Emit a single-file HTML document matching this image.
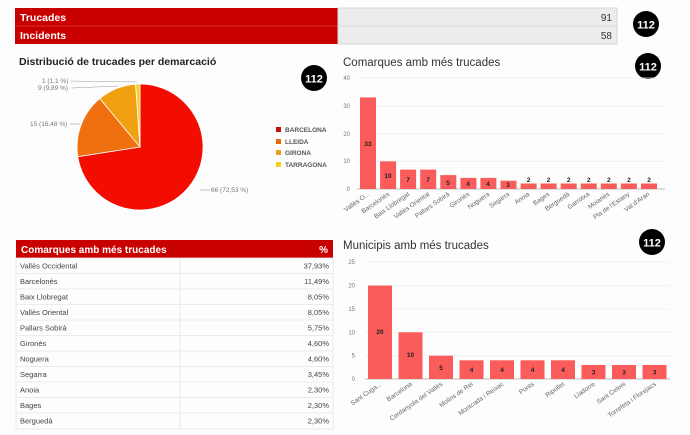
<!DOCTYPE html>
<html><head><meta charset="utf-8"><style>
html,body{margin:0;padding:0;background:#fff;}
svg{display:block;font-family:"Liberation Sans",Arial,sans-serif;}
</style></head><body>
<svg width="690" height="435" viewBox="0 0 690 435" xmlns="http://www.w3.org/2000/svg">
<rect width="690" height="435" fill="#fdfdfd"/>
<rect x="15" y="8" width="323" height="36" fill="#c80000"/>
<line x1="15" y1="26" x2="338" y2="26" stroke="#e03030"/>
<text x="20" y="21" font-size="10.5" font-weight="bold" fill="#fff">Trucades</text>
<text x="20" y="39" font-size="10.5" font-weight="bold" fill="#fff">Incidents</text>
<rect x="338" y="8" width="279" height="36" fill="#ececec" stroke="#d8d8d8"/>
<line x1="338" y1="26" x2="617" y2="26" stroke="#d8d8d8"/>
<text x="612" y="21" font-size="10" fill="#333" text-anchor="end">91</text>
<text x="612" y="39" font-size="10" fill="#333" text-anchor="end">58</text>
<g font-weight="bold" text-anchor="middle">
<circle cx="646" cy="24" r="13" fill="#000"/><text x="646" y="28.5" font-size="11" fill="#fff">112</text>
<circle cx="314" cy="78" r="13" fill="#000"/><text x="314" y="82.5" font-size="11" fill="#fff">112</text>
<circle cx="648" cy="66" r="13" fill="#000"/><text x="648" y="70.5" font-size="11" fill="#fff">112</text>
<circle cx="652" cy="242" r="13" fill="#000"/><text x="652" y="246.5" font-size="11" fill="#fff">112</text>
</g>
<text x="19" y="65" font-size="10.5" font-weight="bold" fill="#222">Distribució de trucades per demarcació</text>
<path d="M140,147 L140,84 A63,63 0 1 1 77.8,156.7 Z" fill="#f20d00" stroke="#fff" stroke-width="0.8"/>
<path d="M140,147 L77.8,156.7 A63,63 0 0 1 99.9,98.5 Z" fill="#f07010" stroke="#fff" stroke-width="0.8"/>
<path d="M140,147 L99.9,98.5 A63,63 0 0 1 135.6,84.2 Z" fill="#f0a010" stroke="#fff" stroke-width="0.8"/>
<path d="M140,147 L135.6,84.2 A63,63 0 0 1 140,84 Z" fill="#f5d020" stroke="#fff" stroke-width="0.8"/>
<g stroke="#999" stroke-width="0.6">
<line x1="70" y1="81" x2="137" y2="82"/><line x1="72" y1="88" x2="118" y2="86"/>
<line x1="70" y1="124" x2="80" y2="124"/><line x1="200" y1="190" x2="210" y2="190"/>
</g>
<g font-size="6.5" fill="#777">
<text x="42" y="83">1 (1,1 %)</text><text x="38" y="90">9 (9,89 %)</text>
<text x="30" y="126">15 (16,48 %)</text><text x="211" y="192">66 (72,53 %)</text>
</g>
<g font-size="6.5" fill="#555" font-weight="bold">
<rect x="276" y="127" width="5" height="5" fill="#c81010"/><text x="285" y="132">BARCELONA</text>
<rect x="276" y="139" width="5" height="5" fill="#e06a10"/><text x="285" y="144">LLEIDA</text>
<rect x="276" y="150" width="5" height="5" fill="#e8a020"/><text x="285" y="155">GIRONA</text>
<rect x="276" y="162" width="5" height="5" fill="#f5d020"/><text x="285" y="167">TARRAGONA</text>
</g>
<text x="343" y="66" font-size="11.5" fill="#333">Comarques amb més trucades</text>
<g stroke="#eee" stroke-width="0.8">
<line x1="357" y1="78" x2="665" y2="78"/><line x1="357" y1="106" x2="665" y2="106"/>
<line x1="357" y1="133.5" x2="665" y2="133.5"/><line x1="357" y1="161.3" x2="665" y2="161.3"/>
</g>
<line x1="357" y1="189" x2="665" y2="189" stroke="#aaa" stroke-width="0.8"/>
<g font-size="6" fill="#777" text-anchor="end">
<text x="350" y="80">40</text><text x="350" y="108">30</text><text x="350" y="136">20</text><text x="350" y="163">10</text><text x="350" y="191">0</text>
</g>
<g fill="#fa5c5c">
<rect x="360" y="97.4" width="16" height="91.6"/><rect x="380.1" y="161.3" width="16" height="27.7"/>
<rect x="400.1" y="169.6" width="16" height="19.4"/><rect x="420.2" y="169.6" width="16" height="19.4"/>
<rect x="440.3" y="175.1" width="16" height="13.9"/><rect x="460.4" y="177.9" width="16" height="11.1"/>
<rect x="480.4" y="177.9" width="16" height="11.1"/><rect x="500.5" y="180.7" width="16" height="8.3"/>
<rect x="520.6" y="183.5" width="16" height="5.5"/><rect x="540.6" y="183.5" width="16" height="5.5"/>
<rect x="560.7" y="183.5" width="16" height="5.5"/><rect x="580.8" y="183.5" width="16" height="5.5"/>
<rect x="600.8" y="183.5" width="16" height="5.5"/><rect x="620.9" y="183.5" width="16" height="5.5"/>
<rect x="641" y="183.5" width="16" height="5.5"/>
</g>
<g font-size="6.5" font-weight="bold" fill="#222" text-anchor="middle">
<text x="368" y="146">33</text><text x="388" y="178">10</text><text x="408" y="182">7</text><text x="428" y="182">7</text>
<text x="448" y="185">5</text><text x="468" y="186">4</text><text x="488" y="186">4</text><text x="508" y="187">3</text>
<text x="528.6" y="182">2</text><text x="548.6" y="182">2</text><text x="568.7" y="182">2</text><text x="588.8" y="182">2</text>
<text x="608.8" y="182">2</text><text x="628.9" y="182">2</text><text x="649" y="182">2</text>
</g>
<g font-size="6.5" fill="#666" text-anchor="end">
<text transform="translate(370,195) rotate(-35)">Vallès O...</text>
<text transform="translate(390,195) rotate(-35)">Barcelonès</text>
<text transform="translate(410,195) rotate(-35)">Baix Llobregat</text>
<text transform="translate(430,195) rotate(-35)">Vallès Oriental</text>
<text transform="translate(450,195) rotate(-35)">Pallars Sobirà</text>
<text transform="translate(470,195) rotate(-35)">Gironès</text>
<text transform="translate(490,195) rotate(-35)">Noguera</text>
<text transform="translate(510,195) rotate(-35)">Segarra</text>
<text transform="translate(530,195) rotate(-35)">Anoia</text>
<text transform="translate(550,195) rotate(-35)">Bages</text>
<text transform="translate(570,195) rotate(-35)">Berguedà</text>
<text transform="translate(590,195) rotate(-35)">Garrotxa</text>
<text transform="translate(610,195) rotate(-35)">Moianès</text>
<text transform="translate(630,195) rotate(-35)">Pla de l'Estany</text>
<text transform="translate(650,195) rotate(-35)">Val d'Aran</text>
</g>
<rect x="16" y="240" width="317" height="18" fill="#c80000"/>
<text x="21" y="253" font-size="10" font-weight="bold" fill="#fff">Comarques amb més trucades</text>
<text x="328" y="253" font-size="10" font-weight="bold" fill="#fff" text-anchor="end">%</text>
<g stroke="#e4e4e4" stroke-width="0.8" fill="none">
<rect x="16" y="258" width="317" height="171"/>
<line x1="180" y1="258" x2="180" y2="429"/>
<line x1="16" y1="273.5" x2="333" y2="273.5"/><line x1="16" y1="289" x2="333" y2="289"/>
<line x1="16" y1="304.5" x2="333" y2="304.5"/><line x1="16" y1="320" x2="333" y2="320"/>
<line x1="16" y1="335.5" x2="333" y2="335.5"/><line x1="16" y1="351" x2="333" y2="351"/>
<line x1="16" y1="366.5" x2="333" y2="366.5"/><line x1="16" y1="382" x2="333" y2="382"/>
<line x1="16" y1="397.5" x2="333" y2="397.5"/><line x1="16" y1="413" x2="333" y2="413"/>
</g>
<g font-size="7.5" fill="#444">
<text x="20" y="268.5">Vallès Occidental</text><text x="20" y="284">Barcelonès</text><text x="20" y="299.5">Baix Llobregat</text>
<text x="20" y="315">Vallès Oriental</text><text x="20" y="330.5">Pallars Sobirà</text><text x="20" y="346">Gironès</text>
<text x="20" y="361.5">Noguera</text><text x="20" y="377">Segarra</text><text x="20" y="392.5">Anoia</text>
<text x="20" y="408">Bages</text><text x="20" y="423.5">Berguedà</text>
</g>
<g font-size="7.5" fill="#444" text-anchor="end">
<text x="329" y="268.5">37,93%</text><text x="329" y="284">11,49%</text><text x="329" y="299.5">8,05%</text>
<text x="329" y="315">8,05%</text><text x="329" y="330.5">5,75%</text><text x="329" y="346">4,60%</text>
<text x="329" y="361.5">4,60%</text><text x="329" y="377">3,45%</text><text x="329" y="392.5">2,30%</text>
<text x="329" y="408">2,30%</text><text x="329" y="423.5">2,30%</text>
</g>
<text x="343" y="249" font-size="11.5" fill="#333">Municipis amb més trucades</text>
<g stroke="#eee" stroke-width="0.8">
<line x1="365" y1="262" x2="670" y2="262"/><line x1="365" y1="285.6" x2="670" y2="285.6"/>
<line x1="365" y1="309" x2="670" y2="309"/><line x1="365" y1="332.3" x2="670" y2="332.3"/>
<line x1="365" y1="355.7" x2="670" y2="355.7"/>
</g>
<line x1="365" y1="379" x2="670" y2="379" stroke="#aaa" stroke-width="0.8"/>
<g font-size="6" fill="#777" text-anchor="end">
<text x="355" y="264">25</text><text x="355" y="287.6">20</text><text x="355" y="311">15</text>
<text x="355" y="334.3">10</text><text x="355" y="357.7">5</text><text x="355" y="381">0</text>
</g>
<g fill="#fa5c5c">
<rect x="368" y="285.6" width="24" height="93.4"/><rect x="398.5" y="332.3" width="24" height="46.7"/>
<rect x="429" y="355.7" width="24" height="23.3"/><rect x="459.5" y="360.3" width="24" height="18.7"/>
<rect x="490" y="360.3" width="24" height="18.7"/><rect x="520.5" y="360.3" width="24" height="18.7"/>
<rect x="551" y="360.3" width="24" height="18.7"/><rect x="581.5" y="365" width="24" height="14"/>
<rect x="612" y="365" width="24" height="14"/><rect x="642.5" y="365" width="24" height="14"/>
</g>
<g font-size="6.5" font-weight="bold" fill="#222" text-anchor="middle">
<text x="380" y="334">20</text><text x="410.5" y="357">10</text><text x="441" y="370">5</text>
<text x="471.5" y="372">4</text><text x="502" y="372">4</text><text x="532.5" y="372">4</text><text x="563" y="372">4</text>
<text x="593.5" y="374.5">3</text><text x="624" y="374.5">3</text><text x="654.5" y="374.5">3</text>
</g>
<g font-size="6.5" fill="#666" text-anchor="end">
<text transform="translate(382,385) rotate(-35)">Sant Cuga...</text>
<text transform="translate(412.5,385) rotate(-35)">Barcelona</text>
<text transform="translate(443,385) rotate(-35)">Cerdanyola del Vallès</text>
<text transform="translate(473.5,385) rotate(-35)">Molins de Rei</text>
<text transform="translate(504,385) rotate(-35)">Montcada i Reixac</text>
<text transform="translate(534.5,385) rotate(-35)">Ponts</text>
<text transform="translate(565,385) rotate(-35)">Ripollet</text>
<text transform="translate(595.5,385) rotate(-35)">Lladorre</text>
<text transform="translate(626,385) rotate(-35)">Sant Celoni</text>
<text transform="translate(656.5,385) rotate(-35)">Torrefeta i Florejacs</text>
</g>
</svg>
</body></html>
